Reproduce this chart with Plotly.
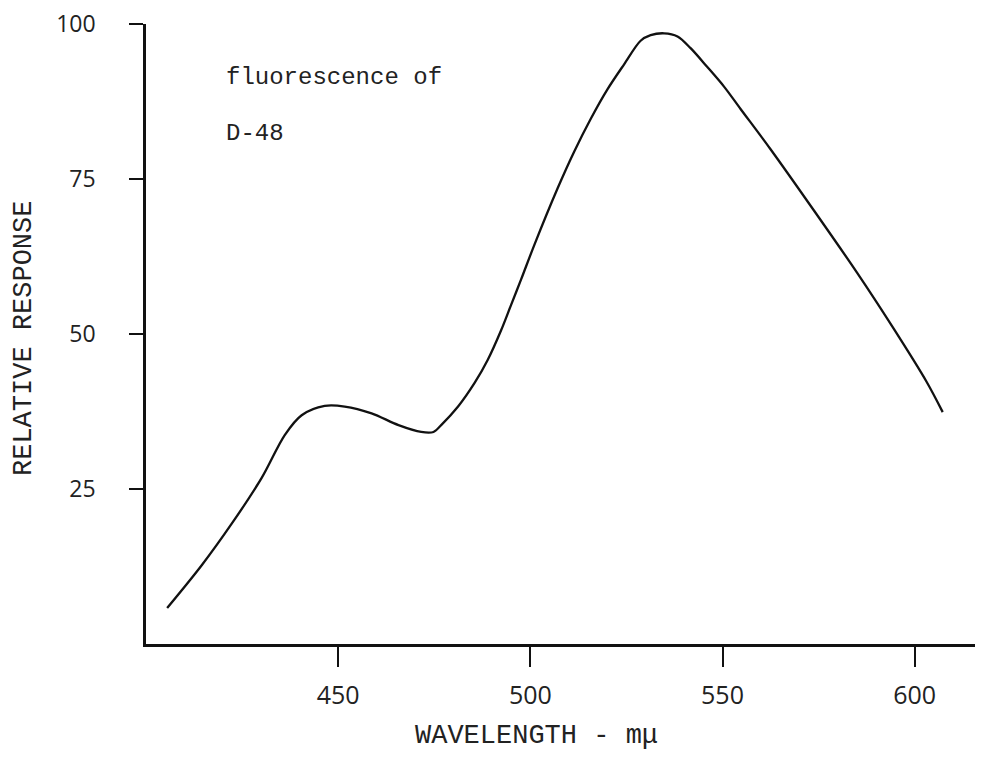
import plotly.graph_objects as go

wavelength = [405.5, 414.5, 422.3, 430.1, 436.1, 440.5, 446.5, 451.7, 458.7, 465.7,
              471.6, 474.8, 476.8, 481.2, 485.5, 488.9, 492.4, 495.0, 497.6, 501.0,
              507.1, 511.4, 515.8, 520.1, 524.4, 528.7, 531.3, 534.8, 538.3,
              541.7, 546.0, 550.4, 554.7, 562.5, 573.7, 585.0, 594.5, 603.1, 607.3]
response = [5.8, 12.7, 19.4, 26.8, 33.7, 36.9, 38.4, 38.3, 37.2, 35.3,
            34.2, 34.2, 35.3, 38.3, 42.1, 45.8, 50.6, 54.7, 58.8, 64.3,
            73.5, 79.4, 84.8, 89.5, 93.5, 97.3, 98.2, 98.5, 98.0,
            96.1, 93.1, 89.9, 86.3, 79.8, 70.0, 59.9, 50.9, 42.3, 37.4]

x_ticks = [450, 500, 550, 600]
y_ticks = [25, 50, 75, 100]

TYPE = "Liberation Mono, Courier New, monospace"
NUM = "Open Sans, DejaVu Sans, sans-serif"

# page body has a small margin; size the figure to fill the 989x758 window
W, H = 973, 742
L, R, T, B = 138, 6, 16, 106

fig = go.Figure()
fig.add_trace(go.Scatter(
    x=wavelength, y=response, mode="lines",
    line=dict(color="#111111", width=2.3, shape="spline", smoothing=0.9),
    hoverinfo="skip", showlegend=False,
))

fig.update_layout(
    width=W, height=H,
    margin=dict(l=L, r=R, t=T, b=B, autoexpand=False),
    paper_bgcolor="white", plot_bgcolor="white",
    showlegend=False,
    xaxis=dict(
        range=[400, 615.7], tickvals=x_ticks, ticktext=[str(v) for v in x_ticks],
        showgrid=False, zeroline=False, showline=True, linecolor="#111111", linewidth=2.5,
        ticks="outside", ticklen=20, tickwidth=1.5, tickcolor="#111111",
        tickfont=dict(family=NUM, size=25, color="#222222"), ticklabelstandoff=7,
        ticklabeloverflow="allow", automargin=False,
    ),
    yaxis=dict(
        range=[0, 100], tickvals=y_ticks, ticktext=[str(v) for v in y_ticks],
        showgrid=False, zeroline=False, showline=True, linecolor="#111111", linewidth=2.5,
        ticks="outside", ticklen=14, tickwidth=1.5, tickcolor="#111111",
        tickfont=dict(family=NUM, size=23, color="#222222"), ticklabelstandoff=29,
        ticklabeloverflow="allow", automargin=False,
    ),
    annotations=[
        dict(text="fluorescence of", x=420.2, y=91.3, xref="x", yref="y",
             xanchor="left", yanchor="middle", showarrow=False,
             font=dict(family=TYPE, size=24, color="#222222")),
        dict(text="D-48", x=420.2, y=82.4, xref="x", yref="y",
             xanchor="left", yanchor="middle", showarrow=False,
             font=dict(family=TYPE, size=24, color="#222222")),
        dict(text="RELATIVE RESPONSE", x=16, y=330, xref="paper", yref="paper",
             showarrow=False, textangle=-90,
             font=dict(family=TYPE, size=27, color="#222222")),
        dict(text="WAVELENGTH - m\u03bc", x=528, y=728, xref="paper", yref="paper",
             showarrow=False,
             font=dict(family=TYPE, size=27, color="#222222")),
    ],
)

# convert pixel-placed titles (figure pixels) to paper coordinates
pw = W - L - R
ph = H - T - B
for a in fig.layout.annotations[2:]:
    px, py = a.x, a.y
    a.x = (px - L) / pw
    a.y = (H - B - py) / ph
    a.xanchor = "center"
    a.yanchor = "middle"

fig.write_html("out.html")
